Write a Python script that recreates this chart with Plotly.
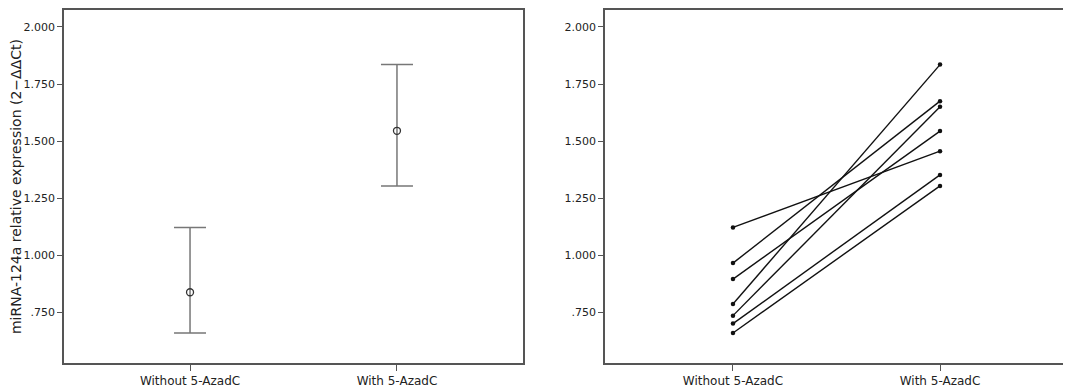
import plotly.graph_objects as go

# Data
categories = ["Without 5-AzadC", "With 5-AzadC"]
without_vals = [1.122, 0.966, 0.896, 0.787, 0.736, 0.701, 0.660]
with_vals = [1.456, 1.675, 1.544, 1.835, 1.650, 1.352, 1.304]
ytick_vals = [0.75, 1.0, 1.25, 1.5, 1.75, 2.0]
ytick_text = [".750", "1.000", "1.250", "1.500", "1.750", "2.000"]

groups = [without_vals, with_vals]
means = [sum(g) / len(g) for g in groups]
upper = [max(g) - m for g, m in zip(groups, means)]
lower = [m - min(g) for g, m in zip(groups, means)]

FONT = "DejaVu Sans"
AX = "#555555"
TXT = "#222222"

# page body has an 8px margin: figure drawn from (8, 8)
W, H = 1063, 382

fig = go.Figure()

# Left panel: mean with range bars
fig.add_trace(go.Scatter(
    x=[0, 1], y=means, mode="markers",
    marker=dict(symbol="circle-open", size=7, color="#333333", line=dict(width=1.3)),
    error_y=dict(type="data", symmetric=False, array=upper, arrayminus=lower,
                 color="#777777", thickness=1.5, width=16),
    xaxis="x", yaxis="y", showlegend=False, hoverinfo="y",
))

# Right panel: paired lines
for a, b in zip(without_vals, with_vals):
    fig.add_trace(go.Scatter(
        x=[0, 1], y=[a, b], mode="lines+markers",
        line=dict(color="#111111", width=1.4),
        marker=dict(size=4.5, color="#111111"),
        xaxis="x2", yaxis="y2", showlegend=False,
    ))

yrange = [0.528, 2.074]
xcommon = dict(
    tickmode="array", tickvals=[0, 1], ticktext=categories,
    ticks="outside", ticklen=6, tickcolor=AX, tickwidth=1,
    showline=True, linecolor=AX, linewidth=1.5, mirror=True,
    showgrid=False, zeroline=False,
    tickfont=dict(family=FONT, size=12, color=TXT),
)
ycommon = dict(
    tickmode="array", tickvals=ytick_vals, ticktext=ytick_text,
    ticks="outside", ticklen=5, tickcolor=AX, tickwidth=1,
    showline=True, linecolor=AX, linewidth=1.5, mirror=True,
    showgrid=False, zeroline=False, range=yrange,
    tickfont=dict(family=FONT, size=11, color=TXT),
)

ydom = [1 - 355 / H, 1.0]
fig.update_layout(
    width=W, height=H,
    margin=dict(l=0, r=0, t=0, b=0),
    paper_bgcolor="white", plot_bgcolor="white",
    xaxis=dict(domain=[56 / W, 515 / W], range=[-0.609, 1.609], anchor="y", **xcommon),
    yaxis=dict(domain=ydom, anchor="x",
               title=dict(text="miRNA-124a relative expression (2\u2212\u0394\u0394Ct)",
                          font=dict(family=FONT, size=14, color=TXT), standoff=0),
               **ycommon),
    xaxis2=dict(domain=[597 / W, 1060 / W], range=[-0.618, 1.618], anchor="y2", **xcommon),
    yaxis2=dict(domain=ydom, anchor="x2", **ycommon),
)

fig.write_html("out.html")
